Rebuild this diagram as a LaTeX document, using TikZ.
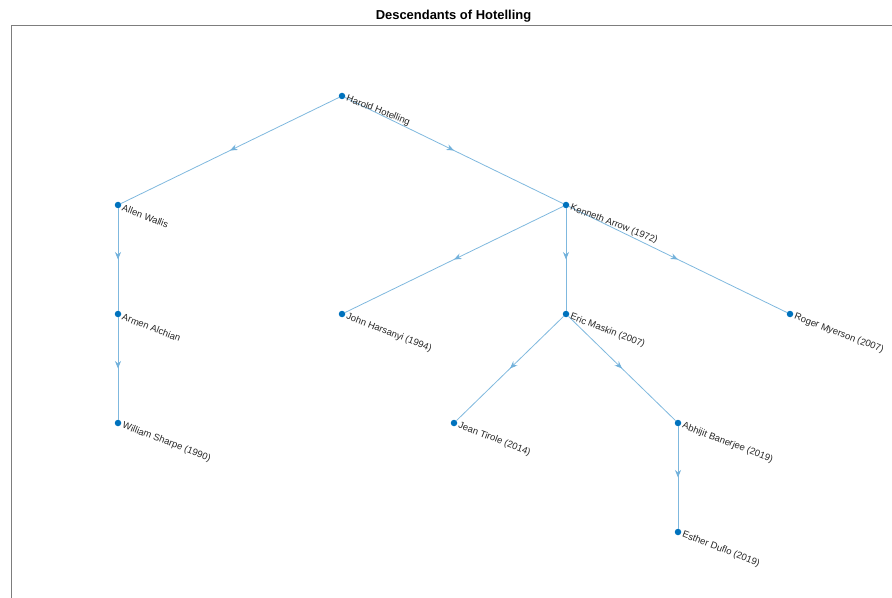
\documentclass[tikz,border=0pt]{standalone}
\usepackage{fontspec}
\setmainfont{Liberation Sans}
\usetikzlibrary{arrows.meta,decorations.markings}
\definecolor{edgeblue}{RGB}{127,184,222}
\definecolor{nodeblue}{RGB}{0,114,189}
\definecolor{axgray}{RGB}{125,125,125}
\definecolor{txt}{RGB}{38,38,38}
\tikzset{
  dotnode/.style={circle,fill=nodeblue,inner sep=0pt,minimum size=6.5bp},
  lbl/.style={anchor=west,rotate=-21,inner sep=0pt,text=txt,font=\fontsize{9.5}{11}\selectfont},
  edge/.style={draw=edgeblue,line width=0.8bp,postaction={decorate},
    decoration={markings,mark=at position 0.5 with {\arrow{Stealth[length=7.5bp,width=6bp,inset=2.5bp,color=edgeblue!90!nodeblue]}}}},
  axline/.style={draw=axgray,line width=1bp}
}
\begin{document}
\begin{tikzpicture}[x=1bp,y=-1bp]
\useasboundingbox (0,0) rectangle (892,598);
% axes
\coordinate (axtl) at (11,25.7);
\coordinate (axbl) at (11,598);
\coordinate (axtr) at (892,25.7);
\draw[axline] (axbl) -- (axtl) -- (axtr);
\node[font=\fontsize{13}{15}\selectfont\bfseries,anchor=base] (title) at (453.5,19.5) {Descendants of Hotelling};
% nodes
\node[dotnode] (hh) at (342,96) {};
\node[dotnode] (aw) at (118,205) {};
\node[dotnode] (ka) at (566,205) {};
\node[dotnode] (aa) at (118,314) {};
\node[dotnode] (jh) at (342,314) {};
\node[dotnode] (em) at (566,314) {};
\node[dotnode] (rm) at (790,314) {};
\node[dotnode] (ws) at (118,423) {};
\node[dotnode] (jt) at (454,423) {};
\node[dotnode] (ab) at (678,423) {};
\node[dotnode] (ed) at (678,532) {};
% edges
\draw[edge] (hh) -- (aw);
\draw[edge] (hh) -- (ka);
\draw[edge] (aw) -- (aa);
\draw[edge] (aa) -- (ws);
\draw[edge] (ka) -- (jh);
\draw[edge] (ka) -- (em);
\draw[edge] (ka) -- (rm);
\draw[edge] (em) -- (jt);
\draw[edge] (em) -- (ab);
\draw[edge] (ab) -- (ed);
% labels
\node[lbl] (hhl) at ([shift={(4.5,2.5)}]hh.center) {Harold Hotelling};
\node[lbl] (awl) at ([shift={(4.5,2.5)}]aw.center) {Allen Wallis};
\node[lbl] (kal) at ([shift={(4.5,2.5)}]ka.center) {Kenneth Arrow (1972)};
\node[lbl] (aal) at ([shift={(4.5,2.5)}]aa.center) {Armen Alchian};
\node[lbl] (jhl) at ([shift={(4.5,2.5)}]jh.center) {John Harsanyi (1994)};
\node[lbl] (eml) at ([shift={(4.5,2.5)}]em.center) {Eric Maskin (2007)};
\node[lbl] (rml) at ([shift={(4.5,2.5)}]rm.center) {Roger Myerson (2007)};
\node[lbl] (wsl) at ([shift={(4.5,2.5)}]ws.center) {William Sharpe (1990)};
\node[lbl] (jtl) at ([shift={(4.5,2.5)}]jt.center) {Jean Tirole (2014)};
\node[lbl] (abl) at ([shift={(4.5,2.5)}]ab.center) {Abhijit Banerjee (2019)};
\node[lbl] (edl) at ([shift={(4.5,2.5)}]ed.center) {Esther Duflo (2019)};
\end{tikzpicture}
\end{document}
